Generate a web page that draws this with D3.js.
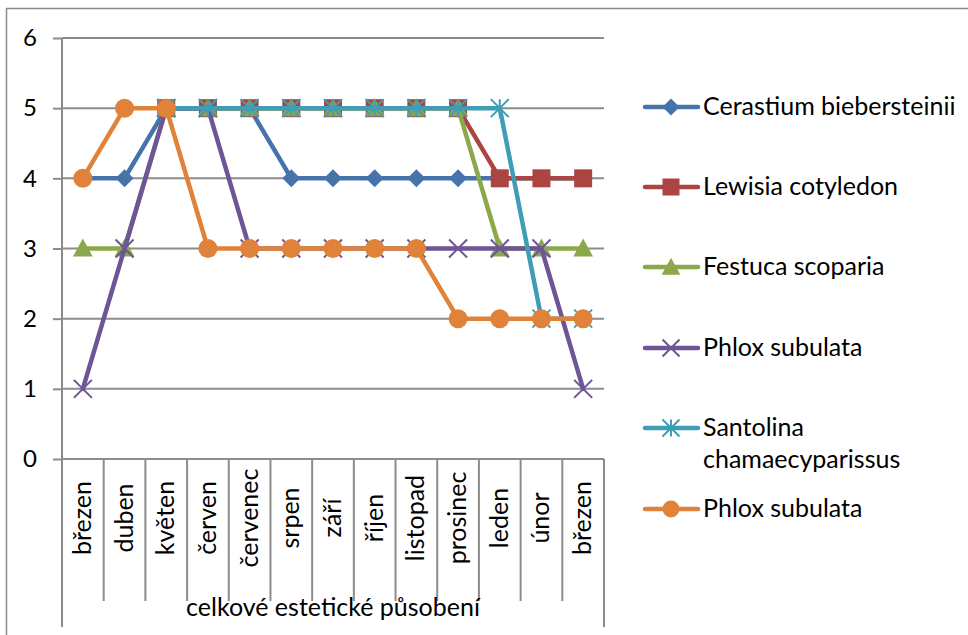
<!DOCTYPE html>
<html>
<head>
<meta charset="utf-8">
<script src="https://cdn.jsdelivr.net/npm/d3@7"></script>
<style>
  html, body { margin: 0; padding: 0; background: #fff; }
  svg { display: block; }
  text { font-family: Lato, "Noto Sans", sans-serif; fill: #000; }
</style>
</head>
<body>
<svg id="chart" width="968" height="635"></svg>
<script>
// Months of the observation period (March to March)
const months = ["březen", "duben", "květen", "červen", "červenec", "srpen", "září",
                "říjen", "listopad", "prosinec", "leden", "únor", "březen"];

// Aesthetic rating per species and month (null = not rated)
const cerastium = [4, 4, 5, 5, 5, 4, 4, 4, 4, 4, 4, 4, 4];
const lewisia   = [null, null, 5, 5, 5, 5, 5, 5, 5, 5, 4, 4, 4];
const festuca   = [3, 3, 5, 5, 5, 5, 5, 5, 5, 5, 3, 3, 3];
const phlox1    = [1, 3, 5, 5, 3, 3, 3, 3, 3, 3, 3, 3, 1];
const santolina = [null, null, 5, 5, 5, 5, 5, 5, 5, 5, 5, 2, 2];
const phlox2    = [4, 5, 5, 3, 3, 3, 3, 3, 3, 2, 2, 2, 2];

const yTicks = [0, 1, 2, 3, 4, 5, 6];
const groupLabel = "celkové estetické působení";

const series = [
  { name: ["Cerastium biebersteinii"], values: cerastium, color: "#4673AA", marker: "diamond" },
  { name: ["Lewisia cotyledon"], values: lewisia, color: "#AA4542", marker: "square" },
  { name: ["Festuca scoparia"], values: festuca, color: "#8BA94B", marker: "triangle" },
  { name: ["Phlox subulata"], values: phlox1, color: "#6E5595", marker: "x" },
  { name: ["Santolina", "chamaecyparissus"], values: santolina, color: "#3F9DB6", marker: "star" },
  { name: ["Phlox subulata"], values: phlox2, color: "#E0823A", marker: "circle" }
];

const svg = d3.select("#chart");
const gridColor = "#8c8c8c";
const fontSize = 25;

// outer chart frame (runs off the right and bottom edges)
svg.append("rect")
  .attr("x", 6.5).attr("y", 8.5).attr("width", 1000).attr("height", 700)
  .attr("fill", "none").attr("stroke", "#8c8c8c").attr("stroke-width", 1.5);

const x = d3.scaleBand().domain(d3.range(months.length)).range([62, 604]);
const y = d3.scaleLinear().domain([0, 6]).range([459, 38]);
const cx = i => x(i) + x.bandwidth() / 2;

// y tick marks and labels
const yAxis = d3.axisLeft(y).tickValues(yTicks).tickSize(9).tickPadding(16)
  .tickFormat(d3.format("d"));
const gy = svg.append("g").attr("transform", "translate(62,0)").call(yAxis);
gy.select(".domain").remove();
gy.selectAll(".tick line").attr("stroke", gridColor).attr("stroke-width", 2);
gy.selectAll(".tick text").attr("font-size", fontSize - 1).attr("font-family", "Lato, sans-serif")
  .attr("fill", "#000");

// horizontal gridlines
svg.append("g").selectAll("line").data(yTicks).join("line")
  .attr("x1", 62).attr("x2", 604)
  .attr("y1", d => y(d)).attr("y2", d => y(d))
  .attr("stroke", gridColor).attr("stroke-width", 2);

// vertical axis line, continued down through the category label area
svg.append("line").attr("x1", 62).attr("x2", 62).attr("y1", 38).attr("y2", 627)
  .attr("stroke", gridColor).attr("stroke-width", 2);
svg.append("line").attr("x1", 604).attr("x2", 604).attr("y1", 459).attr("y2", 627)
  .attr("stroke", gridColor).attr("stroke-width", 2);

// category separators
svg.append("g").selectAll("line").data(d3.range(1, months.length)).join("line")
  .attr("x1", i => x(i)).attr("x2", i => x(i))
  .attr("y1", 459).attr("y2", 601)
  .attr("stroke", gridColor).attr("stroke-width", 2);

// rotated month labels
svg.append("g").selectAll("text").data(months).join("text")
  .attr("transform", (d, i) => `translate(${cx(i) + 8},518) rotate(-90)`)
  .attr("text-anchor", "middle")
  .attr("font-size", fontSize)
  .text(d => d);

svg.append("text")
  .attr("x", 333).attr("y", 616)
  .attr("text-anchor", "middle").attr("font-size", fontSize)
  .text(groupLabel);

// marker shapes
function drawMarker(g, type, color, size) {
  const s = size;
  if (type === "diamond") {
    g.append("path").attr("d", `M0,${-s * 0.5}L${s * 0.5},0L0,${s * 0.5}L${-s * 0.5},0Z`).attr("fill", color);
  } else if (type === "square") {
    g.append("rect").attr("x", -s * 0.5).attr("y", -s * 0.5).attr("width", s).attr("height", s).attr("fill", color);
  } else if (type === "triangle") {
    g.append("path").attr("d", `M0,${-s * 0.55}L${s * 0.55},${s * 0.45}L${-s * 0.55},${s * 0.45}Z`).attr("fill", color);
  } else if (type === "circle") {
    g.append("circle").attr("r", s * 0.5).attr("fill", color);
  } else if (type === "x") {
    const h = s * 0.5;
    g.append("path").attr("d", `M${-h},${-h}L${h},${h}M${-h},${h}L${h},${-h}`)
      .attr("stroke", color).attr("stroke-width", 2).attr("fill", "none");
  } else if (type === "star") {
    const h = s * 0.5;
    g.append("path").attr("d", `M${-h},${-h}L${h},${h}M${-h},${h}L${h},${-h}M0,${-h}L0,${h}`)
      .attr("stroke", color).attr("stroke-width", 2).attr("fill", "none");
  }
}

const line = d3.line()
  .defined(d => d !== null)
  .x((d, i) => cx(i)).y(d => y(d));

series.forEach(s => {
  const g = svg.append("g");
  g.append("path").attr("d", line(s.values))
    .attr("fill", "none").attr("stroke", s.color).attr("stroke-width", 4.5)
    .attr("stroke-linejoin", "round").attr("stroke-linecap", "round");
  s.values.forEach((v, i) => {
    if (v === null) return;
    const m = g.append("g").attr("transform", `translate(${cx(i)},${y(v)})`);
    drawMarker(m, s.marker, s.color, s.marker === "circle" ? 19 : 18);
  });
});

// legend
const legendRows = [107, 187, 267, 348, 428, 509];
series.forEach((s, k) => {
  const ly = legendRows[k];
  const g = svg.append("g");
  g.append("line").attr("x1", 645).attr("x2", 698).attr("y1", ly).attr("y2", ly)
    .attr("stroke", s.color).attr("stroke-width", 4.5).attr("stroke-linecap", "round");
  const m = g.append("g").attr("transform", `translate(671,${ly})`);
  drawMarker(m, s.marker, s.color, 17);
  s.name.forEach((t, j) => {
    g.append("text").attr("x", 703).attr("y", ly + 8 + j * 32)
      .attr("font-size", fontSize).text(t);
  });
});
</script>
</body>
</html>
